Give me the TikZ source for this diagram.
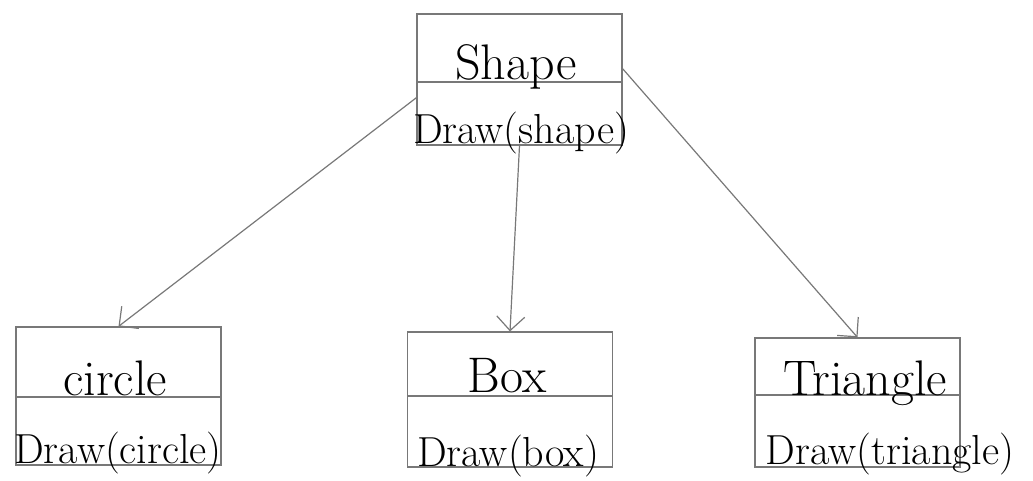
\documentclass[tikz,border=0pt]{standalone}
\usetikzlibrary{arrows.meta}
\definecolor{pencil}{RGB}{120,120,120}
\tikzset{umlsheet/.style={x=0.5pt,y=-0.5pt},
  classbox/.style={draw=pencil,line width=0.6pt,minimum width=102.5pt,inner sep=0pt},
  clsname/.style={anchor=base,inner sep=0pt,font=\fontsize{25}{28}\selectfont},
  clsop/.style={anchor=base,inner sep=0pt,font=\fontsize{21}{24}\selectfont},
  inherit/.style={draw=pencil,line width=0.6pt,-{Straight Barb[length=7pt,width=14pt]}}}

\begin{document}
\begin{tikzpicture}[umlsheet]
    \useasboundingbox (0,0) rectangle (1033,481);
    % classes
    \node[classbox,minimum height=65.5pt] (shape)    at (519.5,79.5) {};
    \node[classbox,minimum height=69pt]   (circle)   at (118.5,396) {};
    \node[classbox,minimum height=67.5pt] (box)      at (510,399.5) {};
    \node[classbox,minimum height=64.5pt] (triangle) at (857.5,402.5) {};
    \foreach \c/\y in {shape/82,circle/397,box/396,triangle/395}
      \draw[pencil,line width=0.6pt] (\c.west |- 0,\y) -- (\c.east |- 0,\y);
    % names and operations
    \node[clsname] (shape-name)    at (516,80)  {Shape};
    \node[clsop]   (shape-op)      at (521,143) {Draw(shape)};
    \node[clsname] (circle-name)   at (115,395) {circle};
    \node[clsop]   (circle-op)     at (118,463) {Draw(circle)};
    \node[clsname] (box-name)      at (507,392) {Box};
    \node[clsop]   (box-op)        at (508,466) {Draw(box)};
    \node[clsname] (triangle-name) at (865,395) {Triangle};
    \node[clsop]   (triangle-op)   at (890,464) {Draw(triangle)};
    % inheritance
    \draw[inherit] (shape.190) -- (circle.north);
    \draw[inherit] (shape.south) -- (box.north);
    \draw[inherit] (shape.6) -- (triangle.north);
  \end{tikzpicture}
\end{document}
